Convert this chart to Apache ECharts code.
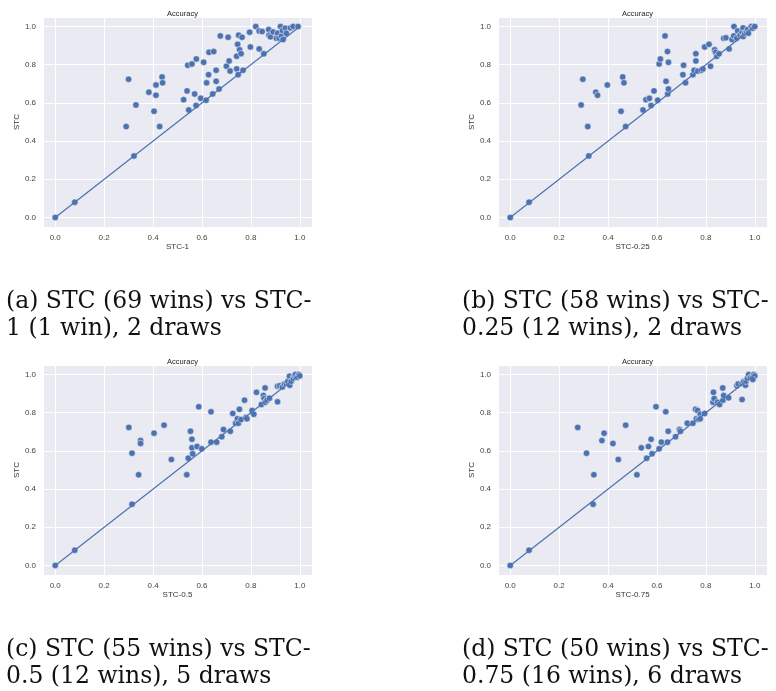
<!DOCTYPE html>
<html lang="en">
<head>
	<meta charset="UTF-8">
	<title>Accuracy</title>
	<style type="text/css">
		body{
			margin: 0;
			background: #fff;
		}
		#a{
			width: 776px;
			height: 691px;
		}
	</style>
</head>
<body>
	<div id="a"></div>
	<script type="text/javascript" src="https://cdn.jsdelivr.net/npm/echarts@6/dist/echarts.min.js"></script>
    <script type="text/javascript">
        //数据: [对比方法, STC]
        var stc1 = [
            [0,0],[0.08,0.08],[0.322,0.322],[0.29,0.476],[0.30,0.724],[0.33,0.589],[0.383,0.656],
            [0.404,0.556],[0.412,0.694],[0.412,0.64],[0.427,0.476],[0.437,0.736],[0.439,0.705],
            [0.525,0.617],[0.539,0.663],[0.542,0.797],[0.546,0.563],[0.559,0.804],[0.57,0.647],
            [0.576,0.586],[0.577,0.83],[0.595,0.624],[0.607,0.813],[0.617,0.614],[0.619,0.705],
            [0.627,0.748],[0.629,0.865],[0.644,0.647],[0.648,0.869],[0.658,0.771],[0.658,0.713],
            [0.67,0.673],[0.675,0.951],[0.70,0.792],[0.707,0.944],[0.711,0.82],[0.715,0.767],
            [0.742,0.778],[0.742,0.844],[0.746,0.907],[0.748,0.748],[0.75,0.955],[0.754,0.878],
            [0.76,0.858],[0.764,0.944],[0.768,0.771],[0.795,0.97],[0.798,0.893],[0.82,1.0],
            [0.834,0.977],[0.834,0.883],[0.846,0.974],[0.853,0.857],[0.873,0.984],[0.874,0.955],
            [0.88,0.946],[0.891,0.972],[0.904,0.939],[0.909,0.965],[0.915,0.939],[0.921,1.0],
            [0.925,0.951],[0.929,0.979],[0.932,0.932],[0.941,0.991],[0.945,0.965],[0.962,0.993],
            [0.973,1.0],[0.993,1.0]
        ];
        var stc025 = [
            [0,0],[0.077,0.08],[0.321,0.322],[0.29,0.589],[0.297,0.724],[0.317,0.476],[0.35,0.656],
            [0.357,0.64],[0.397,0.694],[0.453,0.556],[0.46,0.736],[0.465,0.705],[0.472,0.476],
            [0.543,0.563],[0.555,0.617],[0.569,0.624],[0.576,0.586],[0.588,0.663],[0.603,0.614],
            [0.609,0.804],[0.614,0.83],[0.633,0.951],[0.644,0.647],[0.637,0.713],[0.643,0.869],
            [0.647,0.813],[0.647,0.673],[0.709,0.797],[0.706,0.748],[0.717,0.705],[0.747,0.748],
            [0.752,0.771],[0.759,0.858],[0.759,0.82],[0.767,0.767],[0.781,0.771],[0.788,0.778],
            [0.795,0.893],[0.813,0.907],[0.819,0.792],[0.836,0.878],[0.84,0.865],[0.845,0.844],
            [0.854,0.857],[0.873,0.939],[0.882,0.941],[0.895,0.883],[0.907,0.932],[0.915,1.0],
            [0.914,0.951],[0.926,0.939],[0.93,0.977],[0.94,0.955],[0.948,0.97],[0.952,0.993],
            [0.953,0.948],[0.959,0.965],[0.966,0.974],[0.971,0.984],[0.974,0.965],[0.986,1.0],
            [0.992,0.991],[1.0,1.0]
        ];
        var stc05 = [
            [0,0],[0.08,0.08],[0.314,0.321],[0.301,0.723],[0.314,0.588],[0.341,0.475],[0.349,0.654],
            [0.349,0.639],[0.404,0.693],[0.445,0.735],[0.475,0.555],[0.538,0.475],[0.544,0.562],
            [0.553,0.703],[0.559,0.661],[0.559,0.616],[0.562,0.585],[0.58,0.623],[0.587,0.831],
            [0.599,0.611],[0.637,0.805],[0.637,0.646],[0.66,0.646],[0.681,0.674],[0.688,0.712],
            [0.716,0.703],[0.726,0.796],[0.738,0.745],[0.745,0.768],[0.749,0.745],[0.753,0.818],
            [0.76,0.764],[0.774,0.866],[0.78,0.775],[0.784,0.768],[0.805,0.812],[0.812,0.792],
            [0.823,0.907],[0.843,0.843],[0.851,0.89],[0.858,0.93],[0.854,0.874],[0.859,0.855],
            [0.866,0.866],[0.876,0.876],[0.909,0.857],[0.909,0.939],[0.918,0.941],[0.929,0.935],
            [0.937,0.951],[0.945,0.953],[0.951,0.963],[0.959,0.944],[0.958,0.991],[0.965,0.965],
            [0.973,0.981],[0.978,0.993],[0.982,1.0],[0.989,0.986],[0.996,1.0],[1.0,0.993]
        ];
        var stc075 = [
            [0,0],[0.077,0.08],[0.339,0.321],[0.276,0.723],[0.312,0.588],[0.342,0.475],[0.375,0.654],
            [0.384,0.693],[0.42,0.639],[0.442,0.555],[0.472,0.735],[0.518,0.475],[0.536,0.616],
            [0.558,0.562],[0.565,0.623],[0.576,0.661],[0.58,0.585],[0.596,0.831],[0.609,0.611],
            [0.618,0.646],[0.636,0.805],[0.643,0.646],[0.646,0.703],[0.676,0.674],[0.692,0.712],
            [0.696,0.703],[0.724,0.745],[0.747,0.745],[0.758,0.818],[0.761,0.768],[0.766,0.812],
            [0.77,0.764],[0.777,0.792],[0.777,0.768],[0.795,0.796],[0.829,0.855],[0.831,0.907],
            [0.834,0.874],[0.848,0.855],[0.856,0.843],[0.869,0.93],[0.87,0.866],[0.873,0.89],
            [0.893,0.878],[0.927,0.941],[0.932,0.951],[0.948,0.869],[0.948,0.953],[0.955,0.963],
            [0.962,0.944],[0.964,0.965],[0.97,0.981],[0.975,1.0],[0.982,0.984],[0.99,0.991],
            [0.996,1.0],[1.0,0.993],[0.992,0.974]
        ];
        //对角线
        var diag = [[0,0],[1,1]];
        var xNames = ['STC-1','STC-0.25','STC-0.5','STC-0.75'];
        var captions = [
            '(a) STC (69 wins) vs STC-\n1 (1 win), 2 draws',
            '(b) STC (58 wins) vs STC-\n0.25 (12 wins), 2 draws',
            '(c) STC (55 wins) vs STC-\n0.5 (12 wins), 5 draws',
            '(d) STC (50 wins) vs STC-\n0.75 (16 wins), 6 draws'
        ];
        var panels = [stc1, stc025, stc05, stc075];

        var myChart = echarts.init(document.getElementById('a'));
        var blue = '#4C72B0';
        var lefts = [43, 498, 43, 498];
        var tops = [17, 17, 365, 365];

        var grid = [], xAxis = [], yAxis = [], series = [], title = [], graphic = [];
        for(var i=0;i<4;i++){
            grid.push({
                left: lefts[i], top: tops[i], width: 269, height: 210,
                show: true, backgroundColor: '#EAEAF2', borderWidth: 0
            });
            xAxis.push({
                gridIndex: i, type: 'value', min: -0.05, max: 1.05,
                name: xNames[i], nameLocation: 'middle', nameGap: 16,
                nameTextStyle: {fontSize: 8, color: '#333', fontFamily: 'Liberation Sans'},
                axisLine: {show: false}, axisTick: {show: false},
                axisLabel: {
                    fontSize: 8, color: '#444', margin: 7, fontFamily: 'Liberation Sans',
                    showMinLabel: false, showMaxLabel: false,
                    formatter: function(v){ return v.toFixed(1); }
                },
                splitLine: {lineStyle: {color: '#fff', width: 1}}
            });
            yAxis.push({
                gridIndex: i, type: 'value', min: -0.05, max: 1.05,
                name: 'STC', nameLocation: 'middle', nameGap: 22,
                nameTextStyle: {fontSize: 8, color: '#333', fontFamily: 'Liberation Sans'},
                axisLine: {show: false}, axisTick: {show: false},
                axisLabel: {
                    fontSize: 8, color: '#444', margin: 7, fontFamily: 'Liberation Sans',
                    showMinLabel: false, showMaxLabel: false,
                    formatter: function(v){ return v.toFixed(1); }
                },
                splitLine: {lineStyle: {color: '#fff', width: 1}}
            });
            series.push({
                type: 'scatter', xAxisIndex: i, yAxisIndex: i,
                data: panels[i], symbolSize: 6.5,
                itemStyle: {color: blue, borderColor: '#fff', borderWidth: 0.5, opacity: 1}
            });
            series.push({
                type: 'line', xAxisIndex: i, yAxisIndex: i,
                data: diag, symbol: 'none', silent: true,
                lineStyle: {color: blue, width: 1.2}
            });
            title.push({
                text: 'Accuracy', left: lefts[i] + 134.5, top: tops[i] - 12, textAlign: 'center',
                textStyle: {fontSize: 7.5, fontWeight: 'normal', color: '#222', fontFamily: 'Liberation Sans'}
            });
            //图注
            graphic.push({
                type: 'text', left: lefts[i] === 43 ? 6 : 462, top: tops[i] + 271,
                style: {
                    text: captions[i], fill: '#111', lineHeight: 27,
                    font: '23.5px "DejaVu Serif"'
                }
            });
        }

        var option = {
            animation: false,
            title: title,
            grid: grid,
            xAxis: xAxis,
            yAxis: yAxis,
            series: series,
            graphic: graphic
        };
        myChart.setOption(option);
    </script>
</body>
</html>
